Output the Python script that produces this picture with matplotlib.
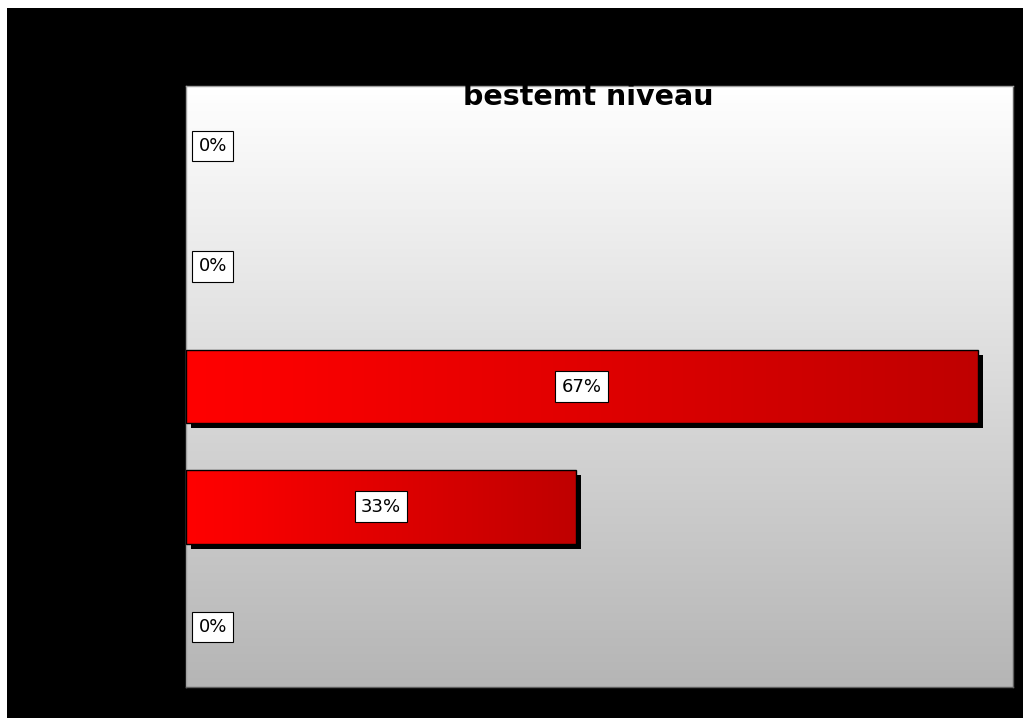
import numpy as np
import matplotlib
matplotlib.use("Agg")
import matplotlib.pyplot as plt
import matplotlib.transforms as mtransforms
from matplotlib.patches import Rectangle

# ---- data ----
categories = ["A", "B", "C", "D", "E"]          # category labels are not visible in the reference
values = [0.0, 0.0, 0.67, 0.33, 0.0]
value_labels = ["0%", "0%", "67%", "33%", "0%"]
title = "bestemt niveau"

W, H = 1023, 718
fig = plt.figure(figsize=(W / 100, H / 100), dpi=100, facecolor="white")

# black canvas with small white margin on top/left
fig.add_artist(Rectangle((7 / W, 0), 1, 1 - 8 / H, transform=fig.transFigure,
                         facecolor="black", edgecolor="none", zorder=0))

ax = fig.add_axes([186 / W, 1 - 687 / H, (1013 - 186) / W, (687 - 86) / H])
ax.set_xlim(0, 0.70)
n = len(categories)
ax.set_ylim(n - 0.5, -0.5)

# background vertical gradient (white -> gray)
g = np.linspace(1.0, 0.71, 256)
bg = np.dstack([g, g, g]).reshape(256, 1, 3)
ax.imshow(bg, extent=[0, 0.70, n - 0.5, -0.5], aspect="auto", zorder=0,
          interpolation="bilinear")

bar_h = 0.615
shadow_tr = ax.transData + mtransforms.ScaledTranslation(5 / 100, -5 / 100, fig.dpi_scale_trans)

xs = np.linspace(0, 1, 256)
red = np.interp(xs, [0, 0.12, 1.0], [1.0, 0.98, 0.75])
bar_grad = np.zeros((1, 256, 3))
bar_grad[0, :, 0] = red

for i, (v, lab) in enumerate(zip(values, value_labels)):
    if v > 0:
        shadow = Rectangle((0, i - bar_h / 2), v, bar_h, facecolor="black",
                           edgecolor="none", transform=shadow_tr, zorder=2)
        ax.add_patch(shadow)
        rect = Rectangle((0, i - bar_h / 2), v, bar_h, facecolor="none",
                         edgecolor="black", linewidth=1.0, zorder=4)
        ax.add_patch(rect)
        im = ax.imshow(bar_grad, extent=[0, v, i + bar_h / 2, i - bar_h / 2],
                       aspect="auto", zorder=3, interpolation="bilinear")
        im.set_clip_path(Rectangle((0, i - bar_h / 2), v, bar_h, transform=ax.transData))
        ax.text(v / 2, i, lab, ha="center", va="center", fontsize=13,
                family="DejaVu Sans", color="black", zorder=6,
                bbox=dict(boxstyle="square,pad=0.35", facecolor="white",
                          edgecolor="black", linewidth=0.8))
    else:
        ax.annotate(lab, xy=(0, i), xytext=(9, 0), textcoords="offset points",
                    ha="left", va="center", fontsize=13, family="DejaVu Sans",
                    color="black", zorder=6,
                    bbox=dict(boxstyle="square,pad=0.35", facecolor="white",
                              edgecolor="black", linewidth=0.8))

ax.set_xticks([])
ax.set_yticks([])
for s in ["top", "left"]:
    ax.spines[s].set_color("#a0a0a0")
for s in ["right", "bottom"]:
    ax.spines[s].set_color("#606060")
for s in ax.spines.values():
    s.set_linewidth(1.0)

fig.text(588.5 / W, 1 - 105 / H, title, ha="center", va="baseline",
         fontsize=20.5, fontweight="bold", color="black", family="DejaVu Sans")

fig.savefig("out.png", dpi=100, facecolor=fig.get_facecolor())
